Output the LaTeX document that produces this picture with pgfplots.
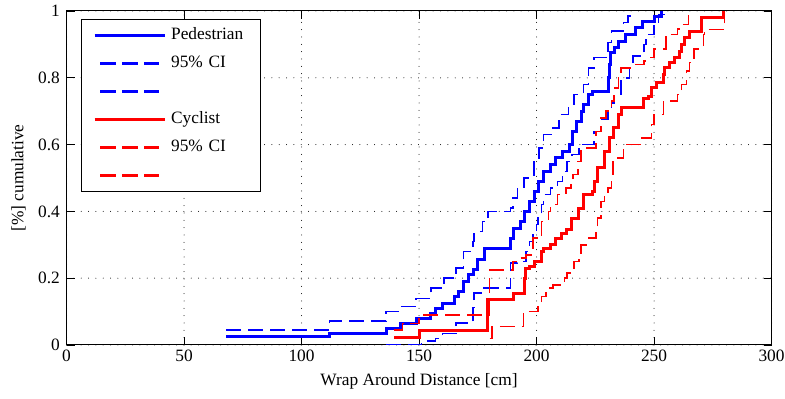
\documentclass[border=0pt]{standalone}
\usepackage{pgfplots}
\pgfplotsset{compat=1.18}
\usepackage{fontspec}
\setmainfont{Liberation Serif}
\definecolor{mblue}{RGB}{0,0,255}
\definecolor{mred}{RGB}{255,0,0}
\begin{document}
\begin{tikzpicture}
\begin{axis}[
  name=ax, at={(0,0)}, anchor=south west,
  scale only axis, width=528.75pt, height=250.5pt,
  xmin=0, xmax=300, ymin=0, ymax=1,
  xtick={0,50,...,300}, ytick={0,0.2,...,1},
  font=\fontsize{13}{15}\selectfont,
  /pgf/number format/assume math mode=true,
  tick label style={font=\fontsize{13}{15}\selectfont},
  xtick pos=both, ytick pos=both,
  tick align=inside, major tick length=6pt,
  every tick/.style={black, line width=0.6pt},
  axis line style={black, line width=0.75pt},
  grid=major,
  major grid style={black, line width=0.75pt, line cap=round, dash pattern=on 0pt off 5.5pt},
  yticklabel style={xshift=-1.5pt},
  xlabel={Wrap Around Distance [cm]},
  ylabel={[\%] cumulative},
  xlabel style={at={(axis description cs:0.5,-0.11)}, anchor=center},
  ylabel style={at={(axis description cs:-0.068,0.5)}, anchor=center},
  const plot,
  legend cell align=left,
  legend style={at={(axis description cs:0.02,0.976)}, anchor=north west,
    draw, line width=0.75pt, inner xsep=9pt, inner ysep=6pt,
    row sep=9pt, column sep=3.75pt,
    nodes={inner sep=0pt, text height=9pt, text depth=3pt, text width=58pt},
    font=\fontsize{13}{15}\selectfont},
  pedsolid/.style={draw=mblue, line width=2.25pt, line join=miter},
  peddash/.style={draw=mblue, line width=1.1pt, dash pattern=on 11.25pt off 5.25pt},
  cycsolid/.style={draw=mred, line width=2.25pt, line join=miter},
  cycdash/.style={draw=mred, line width=1.1pt, dash pattern=on 11.25pt off 5.25pt},
]
\addlegendimage{legend image code/.code={\draw[mblue, line width=2.25pt] (0pt,0pt) -- (52.5pt,0pt);}}
\addlegendentry{Pedestrian}
\addlegendimage{legend image code/.code={\fill[mblue] (4.5pt,-0.6pt) rectangle (15.75pt,0.6pt) (21pt,-0.6pt) rectangle (32.25pt,0.6pt) (37.5pt,-0.6pt) rectangle (48pt,0.6pt);}}
\addlegendentry{95\% CI}
\addlegendimage{legend image code/.code={\fill[mblue] (4.5pt,-0.6pt) rectangle (15.75pt,0.6pt) (21pt,-0.6pt) rectangle (32.25pt,0.6pt) (37.5pt,-0.6pt) rectangle (48pt,0.6pt);}}
\addlegendentry{\mbox{}}
\addlegendimage{legend image code/.code={\draw[mred, line width=2.25pt] (0pt,0pt) -- (52.5pt,0pt);}}
\addlegendentry{Cyclist}
\addlegendimage{legend image code/.code={\fill[mred] (4.5pt,-0.6pt) rectangle (15.75pt,0.6pt) (21pt,-0.6pt) rectangle (32.25pt,0.6pt) (37.5pt,-0.6pt) rectangle (48pt,0.6pt);}}
\addlegendentry{95\% CI}
\addlegendimage{legend image code/.code={\fill[mred] (4.5pt,-0.6pt) rectangle (15.75pt,0.6pt) (21pt,-0.6pt) rectangle (32.25pt,0.6pt) (37.5pt,-0.6pt) rectangle (48pt,0.6pt);}}
\addlegendentry{\mbox{}}
% Pedestrian ECDF
\addplot[pedsolid, forget plot] coordinates {
(68,0.025) (112,0.035) (136,0.05) (142,0.065) (149,0.08) (155,0.095) (157,0.11)
(160,0.125) (165,0.145) (167,0.16) (169,0.19) (171,0.21) (173,0.225) (175,0.255)
(178,0.29) (189,0.32) (190,0.35) (193,0.37) (195,0.40) (197,0.43) (199,0.46)
(201,0.49) (203,0.52) (206,0.54) (208,0.56) (211,0.58) (214,0.60) (215.5,0.64)
(217,0.67) (219,0.70) (220,0.72) (222,0.75) (224,0.76) (230.5,0.80) (231,0.84)
(231.5,0.875) (233,0.89) (235,0.91) (238,0.93) (242,0.95) (245,0.97) (250,0.985)
(253,1.0) (253,1.0)};
% Pedestrian upper CI
\addplot[peddash, forget plot] coordinates {
(68,0.045) (112,0.072) (136,0.10) (141.5,0.115) (148.7,0.14) (155,0.17) (160.6,0.20)
(165.7,0.23) (169,0.28) (173,0.31) (173.4,0.34) (177,0.37) (179.4,0.40) (189,0.41)
(190,0.44) (192,0.47) (194.7,0.50) (199,0.55) (201,0.59) (203,0.63) (207,0.65)
(209.6,0.69) (213.5,0.72) (216,0.75) (220,0.78) (222,0.83) (224.5,0.86) (230.5,0.905)
(231.8,0.94) (236.9,0.965) (239,0.985) (241,1.0) (241,1.0)};
% Pedestrian lower CI
\addplot[peddash, forget plot] coordinates {
(136,0.002) (151,0.012) (157,0.02) (160,0.035) (165.7,0.066) (173,0.113) (173.4,0.155)
(177.7,0.17) (189,0.245) (192,0.25) (195.5,0.28) (197,0.31) (198.5,0.33) (200,0.36)
(200.6,0.39) (202,0.42) (203,0.45) (206,0.47) (209,0.49) (211,0.52) (213,0.55)
(215,0.57) (218,0.60) (224.5,0.64) (227.5,0.675) (230.5,0.70) (232,0.725) (233,0.75)
(236,0.80) (239.5,0.835) (241,0.865) (245.8,0.90) (246.5,0.93) (250,0.96) (252,0.99)
(255,1.0) (255,1.0)};
% Cyclist ECDF
\addplot[cycsolid, forget plot] coordinates {
(139.5,0.022) (150,0.043) (179,0.135) (190,0.155) (194.7,0.20) (195.5,0.23) (197,0.235)
(199,0.25) (202,0.28) (203,0.29) (206,0.30) (208,0.32) (210.5,0.335) (212.6,0.345)
(214.7,0.38) (218,0.41) (220,0.45) (224,0.46) (224.5,0.49) (226,0.53) (228.8,0.58)
(231,0.62) (232.6,0.65) (234.8,0.69) (236,0.71) (245.4,0.737) (247.5,0.745)
(248.8,0.77) (251,0.785) (254,0.81) (254.4,0.83) (256.5,0.845) (258.6,0.86)
(260.8,0.88) (261.6,0.90) (262.9,0.92) (265,0.94) (270,0.98) (279.5,1.0) (279.5,1.0)};
% Cyclist upper CI
\addplot[cycdash, forget plot] coordinates {
(139.5,0.045) (143,0.065) (150,0.09) (180,0.224) (190,0.25) (193,0.26) (195.5,0.27)
(198.5,0.32) (200.6,0.33) (202,0.37) (205,0.40) (206,0.42) (209,0.45) (212.6,0.47)
(214.7,0.49) (215.6,0.51) (217.7,0.55) (219,0.59) (225.4,0.64) (227.5,0.68)
(229.5,0.70) (231.8,0.73) (233,0.77) (234.8,0.80) (236,0.83) (240,0.84) (245.8,0.85)
(248,0.86) (250,0.886) (255,0.93) (260,0.946) (262,0.96) (264.6,0.99) (265,1.0) (265,1.0)};
% Cyclist lower CI
\addplot[cycdash, forget plot] coordinates {
(180,0.02) (181,0.055) (194.5,0.10) (200.6,0.115) (202,0.145) (204,0.17) (207,0.18)
(212,0.20) (213,0.215) (216,0.25) (218,0.26) (219,0.30) (222,0.32) (225.4,0.34)
(226,0.38) (227.5,0.43) (229,0.45) (230.5,0.47) (231.8,0.51) (232.6,0.56) (237,0.60)
(244.6,0.62) (249,0.66) (250,0.69) (254,0.73) (260,0.75) (261.6,0.78) (263.7,0.82)
(265,0.845) (267,0.886) (271,0.93) (271.4,0.945) (280,1.0) (280,1.0)};
\end{axis}
\pgfresetboundingbox
\path ([shift={(-49.9pt,-40.5pt)}]ax.south west) rectangle ([shift={(10.1pt,8.25pt)}]ax.north east);
\end{tikzpicture}
\end{document}
